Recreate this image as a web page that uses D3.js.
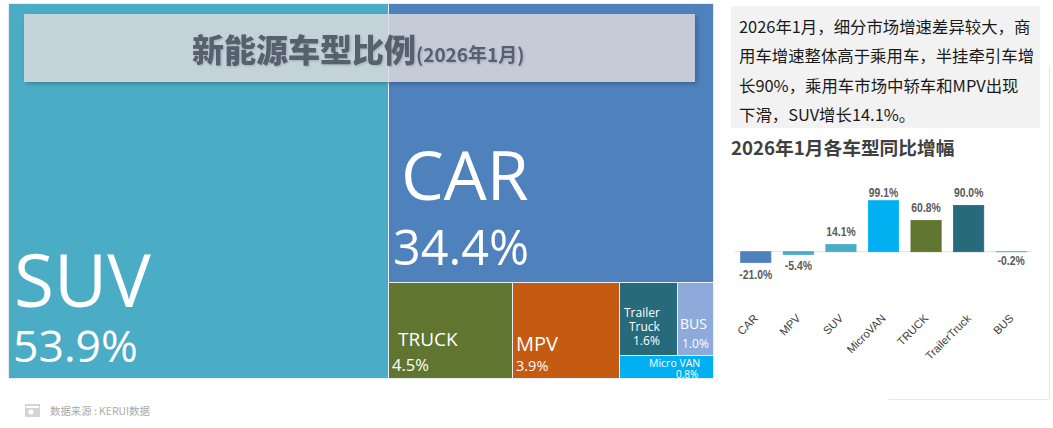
<!DOCTYPE html>
<html><head><meta charset="utf-8">
<script src="https://cdn.jsdelivr.net/npm/d3@7/dist/d3.min.js"></script>
<style>html,body{margin:0;padding:0;background:#fff;overflow:hidden}svg{display:block}text{font-family:"Open Sans","Noto Sans CJK SC",sans-serif}</style>
</head><body><svg id="c" width="1053" height="428"></svg>
<script>
// Treemap data
const shareNames = ["SUV","CAR","TRUCK","MPV","Trailer Truck","BUS","Micro VAN"];
const shareValues = [53.9,34.4,4.5,3.9,1.6,1.0,0.8];
const shareColors = ["#4bacc6","#4f81bd","#5f7530","#c55a11","#276a7c","#8eaadb","#00b0f0"];
// Bar data
const barCategories = ["CAR","MPV","SUV","MicroVAN","TRUCK","TrailerTruck","BUS"];
const barValues = [-21.0,-5.4,14.1,99.1,60.8,90.0,-0.2];
const barColors = ["#4f81bd","#4bacc6","#4bacc6","#00b0f0","#5f7530","#276a7c","#4bacc6"];
const noteLines = ["2026年1月，细分市场增速差异较大，商","用车增速整体高于乘用车，半挂牵引车增","长90%，乘用车市场中轿车和MPV出现","下滑，SUV增长14.1%。"];

const svg = d3.select("#c");
const defs = svg.append("defs");
const f = defs.append("filter").attr("id","sh").attr("x","-5%").attr("y","-20%").attr("width","110%").attr("height","140%");
f.append("feDropShadow").attr("dx",2).attr("dy",2).attr("stdDeviation",2).attr("flood-color","#000").attr("flood-opacity",0.3);
const tf = defs.append("filter").attr("id","tsh").attr("x","-5%").attr("y","-20%").attr("width","110%").attr("height","140%");
tf.append("feDropShadow").attr("dx",1).attr("dy",1).attr("stdDeviation",1).attr("flood-color","#000").attr("flood-opacity",0.18);

// Treemap: nested structure reproduces the reference's arrangement
const leaf = n => ({name:n, value:shareValues[shareNames.indexOf(n)]});
const tree = {name:"root",tile:d3.treemapDice,children:[
  leaf("SUV"),
  {name:"rest",tile:d3.treemapSlice,children:[
    leaf("CAR"),
    {name:"lower",tile:d3.treemapDice,children:[
      leaf("TRUCK"),leaf("MPV"),
      {name:"small",tile:d3.treemapSlice,children:[
        {name:"top",tile:d3.treemapDice,children:[leaf("Trailer Truck"),leaf("BUS")]},
        leaf("Micro VAN")
      ]}
    ]}
  ]}
]};
const root = d3.hierarchy(tree).sum(d=>d.value||0);
d3.treemap().size([705,375]).round(true)
  .tile((node,x0,y0,x1,y1)=>node.data.tile(node,x0,y0,x1,y1))(root);
const gT = svg.append("g").attr("transform","translate(8.5,3.5)");
gT.selectAll("rect").data(root.leaves()).join("rect")
  .attr("x",d=>d.x0).attr("y",d=>d.y0)
  .attr("width",d=>d.x1-d.x0).attr("height",d=>d.y1-d.y0)
  .attr("fill",d=>shareColors[shareNames.indexOf(d.data.name)])
  .attr("stroke","#e8eef4").attr("stroke-width",1);

// Treemap labels (placement in page coordinates)
const labelStyle = {
  "SUV":[{t:"SUV",x:14,y:307,s:73},{t:"%",x:13,y:362,s:44.5}],
  "CAR":[{t:"CAR",x:401,y:200,s:68},{t:"%",x:393,y:265,s:48.5}],
  "TRUCK":[{t:"TRUCK",x:398,y:346,s:19},{t:"%",x:392,y:371,s:16.5}],
  "MPV":[{t:"MPV",x:516,y:351,s:20},{t:"%",x:516,y:371,s:14.5}],
  "Trailer Truck":[{t:"Trailer",x:624,y:317,s:12},{t:"Truck",x:629,y:331,s:12},{t:"%",x:633,y:345,s:12}],
  "BUS":[{t:"BUS",x:680,y:329,s:14},{t:"%",x:682,y:348,s:12}],
  "Micro VAN":[{t:"Micro VAN",x:649,y:367,s:10.5},{t:"%",x:676,y:378,s:10}]
};
shareNames.forEach((n,i)=>{
  labelStyle[n].forEach(l=>{
    svg.append("text").attr("x",l.x).attr("y",l.y).attr("font-size",l.s).attr("fill","#fff")
      .text(l.t==="%"?shareValues[i].toFixed(1)+"%":l.t);
  });
});

// Title band
svg.append("rect").attr("x",24).attr("y",14).attr("width",671).attr("height",68)
  .attr("fill","#e5e3e4").attr("fill-opacity",0.77).attr("filter","url(#sh)");
const title = svg.append("text").attr("x",192).attr("y",62).attr("fill","#56606e")
  .attr("font-weight",900).attr("filter","url(#tsh)").style("font-family",'"Noto Sans CJK SC",sans-serif');
title.append("tspan").attr("font-size",32).text("新能源车型比例");
title.append("tspan").attr("font-size",19).attr("font-weight",700).text("(2026年1月)");

// Note box
svg.append("rect").attr("x",731).attr("y",6).attr("width",309).attr("height",122).attr("fill","#f2f2f2");
svg.append("g").selectAll("text").data(noteLines).join("text")
  .attr("x",739).attr("y",(d,i)=>33+i*29.3).attr("font-size",16.4).attr("fill","#1a1a1a")
  .style("font-family",'"Noto Sans CJK SC",sans-serif').text(d=>d);

// Bar chart
svg.append("text").attr("x",731).attr("y",155).attr("font-size",18.7).attr("font-weight",700).attr("fill","#404040")
  .style("font-family",'"Noto Sans CJK SC",sans-serif').text("2026年1月各车型同比增幅");
const x = d3.scaleBand().domain(barCategories).range([734.5,1032.5]).paddingInner(0.29).paddingOuter(0.145);
const y = d3.scaleLinear().domain([-21,99.1]).range([262.5,200.7]);
svg.append("line").attr("x1",735).attr("x2",1032).attr("y1",y(0)).attr("y2",y(0)).attr("stroke","#e6e6e6").attr("stroke-width",1.2);
svg.append("g").selectAll("rect").data(barCategories).join("rect")
  .attr("x",d=>x(d)).attr("width",x.bandwidth())
  .attr("y",(d,i)=>y(Math.max(0,barValues[i])))
  .attr("height",(d,i)=>Math.abs(y(barValues[i])-y(0)))
  .attr("fill",(d,i)=>barColors[i])
  .attr("stroke",(d,i)=>barColors[i]).attr("stroke-width",0.8);
svg.append("g").selectAll("text").data(barCategories).join("text")
  .attr("transform",(d,i)=>{
    const v = barValues[i];
    const by = v>=0 ? Math.max(197,y(v)-8) : y(v)+(v>-1?13:16);
    return `translate(${x(d)+x.bandwidth()/2},${by}) scale(0.8,1)`;
  })
  .attr("text-anchor","middle").attr("font-size",13).attr("font-weight",700).attr("fill","#595959")
  .style("font-family",'"Liberation Sans",sans-serif')
  .text((d,i)=>barValues[i].toFixed(1)+"%");
svg.append("g").selectAll("text").data(barCategories).join("text")
  .attr("text-anchor","end").attr("font-size",11.2).attr("fill","#404040")
  .style("font-family",'"Liberation Sans",sans-serif')
  .attr("transform",d=>`translate(${x(d)+x.bandwidth()/2+3},${319}) rotate(-45)`)
  .text(d=>d);

// Frame lines at lower right
svg.append("path").attr("d","M1049.5 66V399.5H889").attr("fill","none").attr("stroke","#e6e6e6");

// Source
const ic = svg.append("g").attr("transform","translate(25,403)");
ic.append("rect").attr("width",15).attr("height",13).attr("y",1).attr("fill","#d4d4d4");
ic.append("rect").attr("x",1).attr("y",3).attr("width",13).attr("height",2).attr("fill","#fff");
ic.append("circle").attr("cx",6).attr("cy",9).attr("r",2.6).attr("fill","#fff");
svg.append("text").attr("x",50).attr("y",415).attr("font-size",10.4).attr("fill","#aaaaaa")
  .style("font-family",'"Noto Sans CJK SC",sans-serif').text("数据来源 : KERUI数据");
</script></body></html>
